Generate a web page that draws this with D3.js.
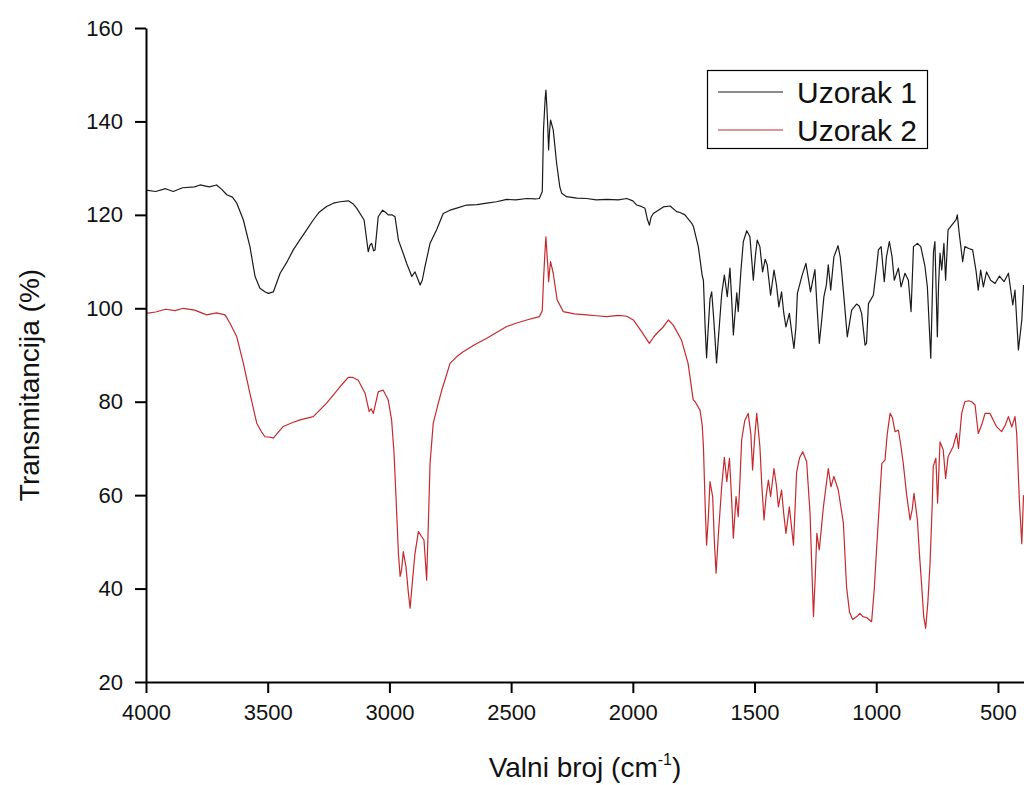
<!DOCTYPE html>
<html>
<head>
<meta charset="utf-8">
<script src="https://cdn.jsdelivr.net/npm/d3@7"></script>
<style>
  body { margin: 0; background: #fff; }
  text { font-family: "Liberation Sans", Arial, sans-serif; fill: #111; }
</style>
</head>
<body>
<div class="chartWrap"></div>
<script>
// wavenumber (cm-1) / transmittance (%)
var wn1 = [4000,3960,3920,3888,3850,3800,3778,3740,3710,3690,3668,3645,3627,3600,3573,3552,3532,3510,3497,3477,3449,3420,3395,3370,3340,3313,3290,3258,3230,3203,3169,3150,3134,3104,3087,3080,3073,3065,3059,3046,3028,3015,3005,2990,2977,2963,2945,2929,2908,2895,2885,2874,2865,2854,2833,2806,2779,2751,2720,2683,2640,2600,2560,2518,2480,2436,2400,2384,2372,2367,2360,2357,2353,2350,2346,2342,2338,2327,2313,2300,2292,2272,2230,2190,2150,2107,2060,2025,2000,1984,1965,1950,1940,1932,1925,1916,1895,1875,1847,1820,1806,1786,1758,1751,1731,1715,1710,1703,1697,1690,1683,1676,1668,1656,1645,1635,1624,1612,1601,1594,1587,1580,1573,1567,1556,1546,1532,1519,1505,1497,1489,1478,1467,1456,1448,1434,1420,1410,1400,1389,1380,1371,1357,1345,1338,1330,1324,1305,1289,1270,1252,1244,1234,1225,1215,1205,1197,1187,1174,1157,1148,1142,1133,1119,1101,1081,1070,1060,1046,1040,1032,1012,1000,991,980,967,958,946,935,926,909,898,882,868,857,847,831,817,800,790,776,770,765,759,749,744,738,731,722,715,705,684,672,667,659,645,636,620,604,590,581,571,560,547,530,512,494,475,457,439,430,416,402,395];
var uzorak1 = [125.3,125.0,125.6,125.0,125.8,126.0,126.4,126.0,126.4,125.5,124.3,123.8,122.5,118.9,113.2,106.8,104.3,103.5,103.2,103.5,107.5,110,112.5,114.5,116.8,118.9,120.5,121.8,122.5,122.8,123,122.4,121.4,118.9,112.1,113.5,113.9,112.3,112.5,119.6,121,120.5,120,120,119.6,114.6,112,109.6,106.8,107.8,106.5,105,106,108.9,113.9,116.8,120.3,121,121.5,122.1,122.2,122.5,122.8,123.3,123.2,123.5,123.4,123.5,125,138.2,145,146.7,143,139.6,133.9,138,140.3,138.2,131,126,124.6,123.9,123.6,123.5,123.2,123.3,123.2,123.5,123,122.1,121.8,121.4,119,117.8,119.5,120.3,121,121.7,121.9,120.7,120.5,120,118.2,117.5,113.2,107,106,96,89.4,96,102,103.5,98,88.3,96,103,107.1,102.5,108.6,102,94.3,99,103.3,99.3,108,114.3,116.6,115.3,106,111,114.6,113.2,107.8,110.5,109.3,102.8,108.2,105,100.3,103.5,99,96,98.9,94,91.4,96,103.2,107,109.6,103.5,108.3,101,92.5,97,102.5,105,109.3,103.9,111,113.4,111,107.8,102.5,93.9,99.6,100.9,100.5,98.9,92.1,92.5,101,102.8,108,112.5,113.2,105.7,111,114.3,111,106,108.6,104.6,107.5,106,99.3,113.2,113.9,113.2,109,104.6,89.3,102,112,114.3,93.9,105,111.8,108.2,113.9,106,116.8,118.2,119,120,116,110,113.2,112.8,112.5,108,103.9,108.2,104.6,107.8,106,105.3,106.9,105.7,107.5,100.7,103.9,91.1,97.5,105];

var wn2 = [4000,3960,3920,3880,3847,3800,3751,3710,3675,3655,3627,3600,3573,3545,3525,3511,3490,3477,3436,3400,3367,3313,3258,3203,3169,3150,3128,3100,3083,3075,3066,3046,3026,3005,2991,2981,2973,2963,2956,2950,2943,2932,2922,2915,2905,2895,2881,2867,2858,2847,2840,2833,2820,2799,2785,2772,2751,2720,2697,2650,2600,2560,2518,2480,2436,2384,2372,2367,2360,2357,2352,2349,2346,2342,2338,2327,2311,2286,2240,2190,2150,2107,2060,2025,1998,1964,1945,1932,1915,1902,1875,1854,1834,1800,1773,1752,1744,1724,1715,1710,1703,1697,1690,1683,1672,1665,1658,1648,1635,1624,1614,1603,1595,1587,1576,1567,1560,1553,1540,1526,1515,1508,1500,1491,1478,1470,1461,1452,1443,1434,1420,1410,1402,1389,1380,1371,1357,1340,1327,1315,1302,1286,1272,1265,1258,1251,1244,1234,1217,1197,1186,1174,1156,1135,1122,1110,1097,1080,1067,1055,1040,1019,1008,998,985,977,964,955,943,933,923,909,900,889,875,861,852,845,831,822,813,805,797,788,779,770,766,755,748,742,738,725,715,705,684,670,662,649,636,620,608,594,581,567,553,533,505,485,470,457,443,430,423,412,402,395];
var uzorak2 = [98.9,99.2,99.8,99.5,100,99.6,98.6,99,98.6,96.8,93.9,88.2,81.8,75.4,73.5,72.5,72.4,72.2,74.7,75.5,76.1,76.8,79.7,83.2,85.2,85.2,84.6,81.8,77.9,78.5,77.5,82.1,82.5,80.4,76.1,69,59.7,47.5,42.6,44,47.9,44.7,39,35.8,41.8,47.5,52.2,51.1,50.4,41.8,54,66.8,75.4,79.7,82.5,84.6,88.2,89.8,90.7,92.2,93.6,94.8,96.1,96.8,97.5,98.2,99.5,106,113,115.3,111,108.9,105.7,108,110,107.5,101.8,99.3,98.8,98.6,98.4,98.2,98.5,98.3,97.5,95,93.5,92.5,93.8,94.6,96,97.5,96.4,93.2,88.2,80.4,80,78.2,75,70.4,58,49.3,55,62.9,59.7,50,43.3,52,61.8,68.1,62.9,67.9,60,50.8,59.7,55.4,63,71.8,76,77.5,73,65.4,72,77.5,70.4,62,54.7,60,63.2,59.7,65.7,62,57.5,61.1,56,51.8,57.5,49.3,65,68,69.3,67.2,56.1,45,34,42,51.8,48.3,57.5,65.7,61.8,64,61.1,54,40.4,35,33.4,34,34.7,34,33.8,32.9,40,49,60,66.8,67.5,73,77.5,76.5,73.6,73.9,71,66.8,60,54.7,57,60.4,54.7,47,40.4,34,31.5,37,45.4,58,66.1,67.9,58.3,66,71.4,69.7,63.6,68.2,70.4,73.2,70,77.5,80,80.2,80,79.3,73.2,75,77.5,77.5,74.6,73.6,75,76.8,74.6,76.8,73.2,58.8,49.6,60];

var seriesNames = ['Uzorak 1', 'Uzorak 2'];
var seriesColors = ['#1a1a1a', '#c42a2e'];
var xMajor = [4000, 3500, 3000, 2500, 2000, 1500, 1000, 500];
var xMinor = [3750, 3250, 2750, 2250, 1750, 1250, 750];
var yMajor = [20, 40, 60, 80, 100, 120, 140, 160];
var yMinor = [30, 50, 70, 90, 110, 130, 150];

var irChart = {

  init: function(){
    self = this;
    self.width = 1024;
    self.height = 785;
    self.left = 146;
    self.right = 1024;
    self.top = 28;
    self.bottom = 682;

    self.x = d3.scaleLinear().domain([4000, 393]).range([self.left, self.right]);
    self.y = d3.scaleLinear().domain([20, 160]).range([self.bottom, self.top]);

    self.svg = d3.select('.chartWrap')
      .append('svg')
      .attr('width', self.width)
      .attr('height', self.height);

    self.drawLines();
    self.drawAxes();
    self.drawLegend();
  },

  drawLines: function(){
    var sets = [d3.zip(wn1, uzorak1), d3.zip(wn2, uzorak2)];
    var line = d3.line()
      .x(function(d){ return self.x(d[0]); })
      .y(function(d){ return self.y(d[1]); });

    self.svg.selectAll('.spectrum')
      .data(sets)
      .enter()
        .append('path')
        .attr('class', 'spectrum')
        .attr('d', line)
        .style('fill', 'none')
        .style('stroke', function(d, i){ return seriesColors[i]; })
        .style('stroke-width', 1.2)
        .style('stroke-linejoin', 'round');
  },

  drawAxes: function(){
    var fmt = d3.format('d');
    var gx = self.svg.append('g').attr('transform', 'translate(0,' + self.bottom + ')');
    gx.call(d3.axisBottom(self.x).tickValues(xMinor).tickSize(6).tickSizeOuter(0).tickFormat(''));
    gx.call(d3.axisBottom(self.x).tickValues(xMajor).tickSize(11).tickSizeOuter(0).tickPadding(11).tickFormat(fmt));

    var gy = self.svg.append('g').attr('transform', 'translate(' + self.left + ',0)');
    gy.call(d3.axisLeft(self.y).tickValues(yMinor).tickSize(6).tickSizeOuter(0).tickFormat(''));
    gy.call(d3.axisLeft(self.y).tickValues(yMajor).tickSize(11).tickSizeOuter(0).tickPadding(12).tickFormat(fmt));

    self.svg.selectAll('.domain').style('stroke', '#000').style('stroke-width', 2);
    self.svg.selectAll('.tick line').style('stroke', '#000').style('stroke-width', 2);
    self.svg.selectAll('.tick text')
      .style('font-size', '22px')
      .style('font-family', '"Liberation Sans", Arial, sans-serif')
      .style('fill', '#111');

    // axis titles
    var xt = self.svg.append('text')
      .attr('x', 585)
      .attr('y', 777)
      .attr('text-anchor', 'middle')
      .style('font-size', '28px');
    xt.append('tspan').text('Valni broj (cm');
    xt.append('tspan').attr('dy', -12).style('font-size', '16px').text('-1');
    xt.append('tspan').attr('dy', 12).text(')');

    self.svg.append('text')
      .attr('transform', 'translate(39,' + 385 + ') rotate(-90)')
      .attr('text-anchor', 'middle')
      .style('font-size', '28px')
      .text('Transmitancija (%)');
  },

  drawLegend: function(){
    var lg = self.svg.append('g').attr('class', 'legend');
    lg.append('rect')
      .attr('x', 707.5)
      .attr('y', 70.5)
      .attr('width', 220)
      .attr('height', 78)
      .style('fill', '#fff')
      .style('stroke', '#000')
      .style('stroke-width', 1.2);

    var item = lg.selectAll('.legItem')
      .data(seriesNames)
      .enter()
        .append('g')
        .attr('class', 'legItem')
        .attr('transform', function(d, i){ return 'translate(0,' + (92 + i * 38) + ')'; });

    item.append('line')
      .attr('x1', 718).attr('x2', 783)
      .attr('y1', 0).attr('y2', 0)
      .style('stroke', function(d, i){ return seriesColors[i]; })
      .style('stroke-width', 1.2);

    item.append('text')
      .attr('x', 797)
      .attr('y', 11)
      .style('font-size', '30px')
      .text(function(d){ return d; });
  }
};

irChart.init();
</script>
</body>
</html>
